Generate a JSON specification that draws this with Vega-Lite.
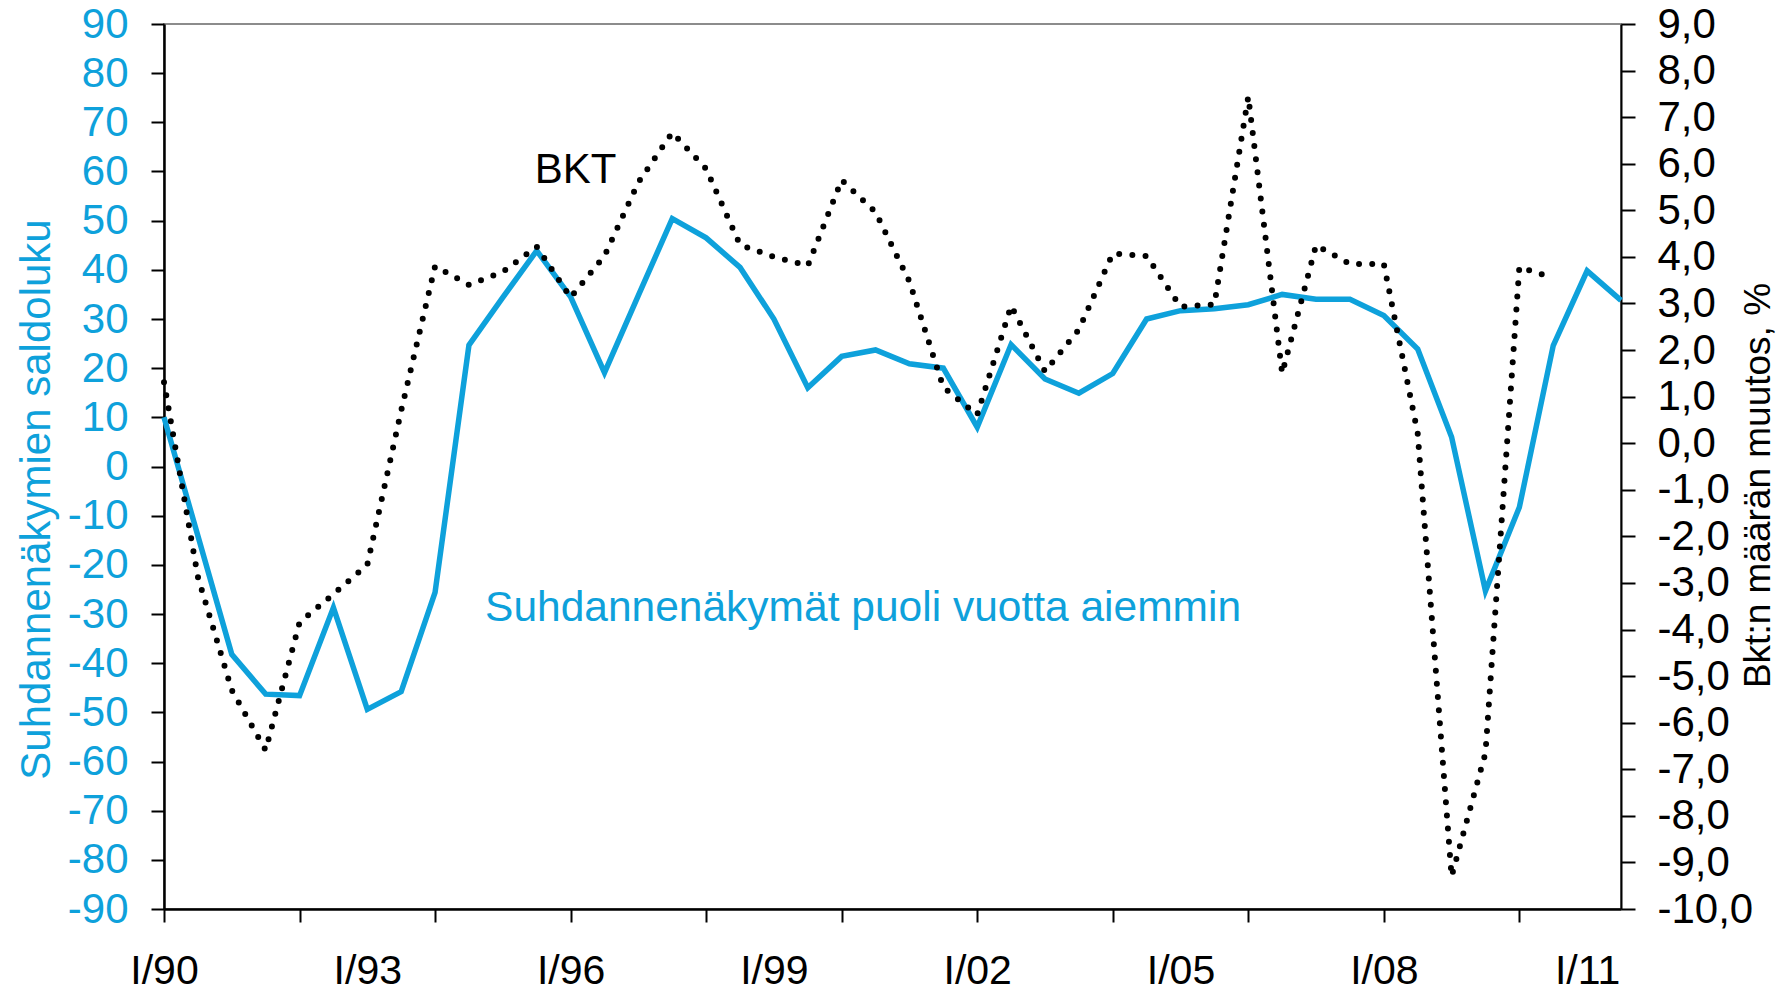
{
  "$schema": "https://vega.github.io/schema/vega-lite/v6.json",
  "width": 1457,
  "height": 885,
  "autosize": "none",
  "padding": {"left": 164, "top": 24, "right": 169, "bottom": 83},
  "background": "white",
  "config": {
    "font": "Liberation Sans",
    "view": {"stroke": "#8c8c8c", "strokeWidth": 2},
    "axis": {
      "grid": false,
      "domainColor": "#000000",
      "domainWidth": 2.5,
      "tickColor": "#000000",
      "tickWidth": 2,
      "labelFont": "Liberation Sans",
      "titleFont": "Liberation Sans",
      "labelFontSize": 42,
      "labelOverlap": false,
      "titleFontWeight": "normal"
    }
  },
  "datasets": {
    "saldo": [
      {"q": 0, "v": 10}, {"q": 4, "v": -38.2}, {"q": 6, "v": -46.3}, {"q": 8, "v": -46.6},
      {"q": 10, "v": -28.7}, {"q": 12, "v": -49.4}, {"q": 14, "v": -45.8}, {"q": 16, "v": -25.6},
      {"q": 18, "v": 24.7}, {"q": 20, "v": 34.4}, {"q": 22, "v": 43.9}, {"q": 24, "v": 34.5},
      {"q": 26, "v": 19.1}, {"q": 28, "v": 34.8}, {"q": 30, "v": 50.4}, {"q": 32, "v": 46.5},
      {"q": 34, "v": 40.5}, {"q": 36, "v": 30.0}, {"q": 38, "v": 16.0}, {"q": 40, "v": 22.4},
      {"q": 42, "v": 23.7}, {"q": 44, "v": 20.9}, {"q": 46, "v": 20.0}, {"q": 48, "v": 8.0},
      {"q": 50, "v": 24.8}, {"q": 52, "v": 17.8}, {"q": 54, "v": 14.9}, {"q": 56, "v": 18.9},
      {"q": 58, "v": 30.0}, {"q": 60, "v": 31.7}, {"q": 62, "v": 32.1}, {"q": 64, "v": 32.9},
      {"q": 66, "v": 35.0}, {"q": 68, "v": 34.0}, {"q": 70, "v": 34.0}, {"q": 72, "v": 30.7},
      {"q": 74, "v": 23.9}, {"q": 76, "v": 6.0}, {"q": 78, "v": -25.3}, {"q": 80, "v": -8.3},
      {"q": 82, "v": 24.6}, {"q": 84, "v": 39.8}, {"q": 86, "v": 33.8}
    ],
    "bkt": [
      {"q": 0, "g": 1.31}, {"q": 2, "g": -2.87}, {"q": 4, "g": -5.3}, {"q": 6, "g": -6.59},
      {"q": 8, "g": -3.85}, {"q": 10, "g": -3.24}, {"q": 12, "g": -2.61}, {"q": 14, "g": 0.7},
      {"q": 16, "g": 3.8}, {"q": 18, "g": 3.4}, {"q": 20, "g": 3.68}, {"q": 22, "g": 4.22},
      {"q": 24, "g": 3.13}, {"q": 26, "g": 4.02}, {"q": 28, "g": 5.6}, {"q": 30, "g": 6.67},
      {"q": 32, "g": 5.89}, {"q": 34, "g": 4.26}, {"q": 36, "g": 4.0}, {"q": 38, "g": 3.81},
      {"q": 40, "g": 5.65}, {"q": 42, "g": 4.96}, {"q": 44, "g": 3.47}, {"q": 46, "g": 1.2},
      {"q": 48, "g": 0.61}, {"q": 50, "g": 2.95}, {"q": 52, "g": 1.54}, {"q": 54, "g": 2.44},
      {"q": 56, "g": 4.07}, {"q": 58, "g": 4.02}, {"q": 60, "g": 2.93}, {"q": 62, "g": 2.98},
      {"q": 64, "g": 7.44}, {"q": 66, "g": 1.5}, {"q": 68, "g": 4.25}, {"q": 70, "g": 3.85},
      {"q": 72, "g": 3.85}, {"q": 74, "g": 0.21}, {"q": 76, "g": -9.3}, {"q": 78, "g": -6.65},
      {"q": 80, "g": 3.78}, {"q": 82, "g": 3.55}
    ],
    "notes": [
      {"t": "BKT"}
    ],
    "notes2": [
      {"t": "Suhdannenäkymät puoli vuotta aiemmin"}
    ]
  },
  "layer": [
    {
      "layer": [
        {
          "mark": {"type": "rule", "color": "#555555", "strokeWidth": 1.5},
          "encoding": {"y": {"datum": 0}}
        },
        {
          "data": {"name": "saldo"},
          "mark": {"type": "line", "color": "#0ea1db", "strokeWidth": 5.5, "strokeJoin": "miter", "strokeCap": "butt"},
          "encoding": {
            "x": {
              "field": "q", "type": "quantitative",
              "scale": {"domain": [0, 86], "nice": false, "zero": false},
              "axis": {
                "title": null,
                "values": [0, 8, 12, 16, 24, 32, 36, 40, 48, 56, 60, 64, 72, 80, 84],
                "labelExpr": "datum.value % 12 === 0 ? 'I/' + substring(toString(1990 + datum.value / 4), 2, 4) : ''",
                "tickOpacity": {"condition": {"test": "datum.value % 8 === 0", "value": 1}, "value": 0},
                "tickSize": 13,
                "labelPadding": 29,
                "labelFontSize": 41,
                "labelBaseline": "top",
                "labelColor": "#000000",
                "labelFlush": false
              }
            },
            "y": {
              "field": "v", "type": "quantitative",
              "scale": {"domain": [-90, 90], "nice": false},
              "axis": {
                "values": [-90, -80, -70, -60, -50, -40, -30, -20, -10, 0, 10, 20, 30, 40, 50, 60, 70, 80, 90],
                "labelExpr": "toString(datum.value)",
                "labelColor": "#0ea1db",
                "tickSize": 13,
                "labelPadding": 23,
                "labelFlush": false,
                "title": "Suhdannenäkymien saldoluku",
                "titleColor": "#0ea1db",
                "titleFontSize": 42,
                "titleAngle": -90,
                "titleBaseline": "middle",
                "titleAlign": "center",
                "titleX": -128,
                "titleY": 475
              }
            }
          }
        },
        {
          "data": {"name": "notes"},
          "mark": {"type": "text", "fontSize": 42, "color": "#000000", "align": "center", "baseline": "middle"},
          "encoding": {"text": {"field": "t"}, "x": {"datum": 24.3}, "y": {"datum": 60.4}}
        },
        {
          "data": {"name": "notes2"},
          "mark": {"type": "text", "fontSize": 42.5, "color": "#0ea1db", "align": "left", "baseline": "middle"},
          "encoding": {"text": {"field": "t"}, "x": {"datum": 18.95}, "y": {"datum": -28.7}}
        }
      ]
    },
    {
      "data": {"name": "bkt"},
      "mark": {"type": "line", "color": "#000000", "strokeWidth": 6, "strokeCap": "round", "strokeDash": [0, 13.2]},
      "encoding": {
        "x": {"field": "q", "type": "quantitative"},
        "y": {
          "field": "g", "type": "quantitative",
          "scale": {"domain": [-10, 9], "nice": false, "zero": false},
          "axis": {
            "orient": "right",
            "values": [-10, -9, -8, -7, -6, -5, -4, -3, -2, -1, 0, 1, 2, 3, 4, 5, 6, 7, 8, 9],
            "labelExpr": "(datum.value < 0 ? '-' : '') + replace(format(abs(datum.value), '.1f'), '.', ',')",
            "labelColor": "#000000",
            "tickSize": 14,
            "labelPadding": 22,
            "domainWidth": 2,
            "labelFlush": false,
            "title": "Bkt:n määrän muutos, %",
            "titleColor": "#000000",
            "titleFontSize": 37,
            "titleAngle": -90,
            "titleBaseline": "middle",
            "titleAlign": "center",
            "titleX": 137,
            "titleY": 461
          }
        }
      }
    }
  ],
  "resolve": {"scale": {"y": "independent"}}
}
